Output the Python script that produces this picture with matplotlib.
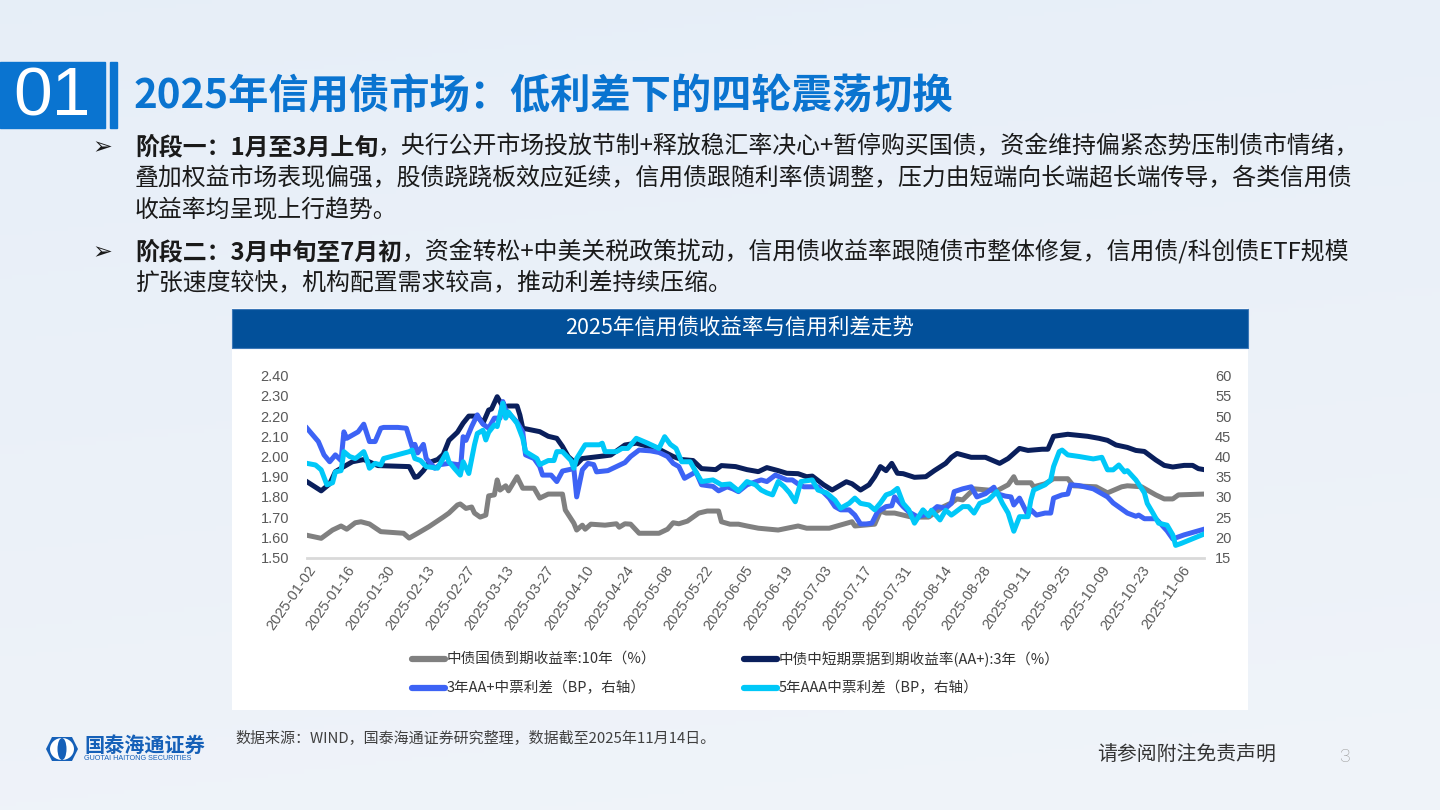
import matplotlib
matplotlib.use('Agg')
import matplotlib.pyplot as plt
import matplotlib.dates as mdates
from matplotlib.patches import Rectangle, Ellipse, Polygon
from matplotlib.lines import Line2D
import numpy as np
import pandas as pd

# ---------------- data ----------------
gov10_dates = ['01-02','01-07','01-11','01-14','01-16','01-19','01-21','01-24','01-28','02-05','02-07','02-10',
               '02-14','02-19','02-21','02-24','02-25','02-27','03-01','03-02','03-04','03-06','03-07','03-09',
               '03-10','03-11','03-13','03-14','03-17','03-19','03-23','03-25','03-28','04-02','04-03','04-06',
               '04-07','04-09','04-10','04-12','04-17','04-21','04-22','04-24','04-26','04-29','05-06','05-09',
               '05-11','05-13','05-16','05-20','05-23','05-27','05-28','05-31','06-03','06-06','06-10','06-17',
               '06-24','06-27','07-05','07-10','07-13','07-14','07-21','07-23','07-25','07-28','08-03','08-09',
               '08-14','08-17','08-19','08-21','08-25','08-29','09-02','09-06','09-08','09-09','09-14','09-15',
               '09-19','09-22','09-27','09-29','10-07','10-11','10-16','10-18','10-23','10-28','10-31','11-03',
               '11-05','11-14']
gov10 = [1.61,1.595,1.636,1.656,1.64,1.672,1.677,1.666,1.628,1.62,1.596,1.62,
         1.653,1.70,1.72,1.76,1.765,1.743,1.75,1.72,1.70,1.71,1.805,1.81,
         1.884,1.834,1.855,1.83,1.90,1.843,1.843,1.794,1.814,1.814,1.735,1.67,
         1.636,1.66,1.64,1.665,1.66,1.667,1.65,1.667,1.665,1.62,1.62,1.64,
         1.672,1.667,1.68,1.72,1.73,1.73,1.677,1.665,1.665,1.656,1.645,1.636,
         1.656,1.645,1.645,1.665,1.677,1.656,1.665,1.73,1.72,1.72,1.70,1.70,
         1.75,1.77,1.79,1.785,1.84,1.835,1.83,1.86,1.90,1.87,1.87,1.85,
         1.865,1.89,1.89,1.855,1.85,1.82,1.85,1.855,1.85,1.81,1.79,1.79,
         1.81,1.814]

mtn3_dates = ['01-02','01-07','01-10','01-12','01-15','01-18','01-22','01-27','02-07','02-09','02-10','02-12',
              '02-14','02-17','02-19','02-21','02-24','02-26','02-28','03-03','03-05','03-07','03-08','03-10',
              '03-12','03-14','03-17','03-18','03-19','03-25','03-28','03-31','04-02','04-04','04-07','04-09',
              '04-15','04-19','04-24','04-28','05-06','05-11','05-14','05-18','05-21','05-26','05-28','06-02',
              '06-06','06-10','06-13','06-17','06-20','06-24','06-27','06-29','07-03','07-06','07-11','07-13',
              '07-16','07-19','07-21','07-23','07-25','07-27','07-29','07-31','08-04','08-08','08-11','08-15',
              '08-17','08-19','08-24','08-29','09-03','09-06','09-10','09-13','09-18','09-20','09-22','09-27',
              '10-04','10-08','10-11','10-14','10-18','10-21','10-24','10-28','10-31','11-03','11-07','11-10',
              '11-12','11-14']
mtn3 = [1.875,1.83,1.865,1.925,1.95,1.974,1.985,1.955,1.95,1.897,1.90,1.93,
        1.97,1.985,2.01,2.08,2.12,2.165,2.20,2.20,2.165,2.23,2.235,2.296,
        2.247,2.25,2.25,2.205,2.14,2.123,2.10,2.09,2.05,2.00,1.962,1.99,
        2.00,2.007,2.057,2.066,2.036,2.00,1.985,1.98,1.94,1.935,1.955,1.95,
        1.935,1.925,1.945,1.93,1.917,1.915,1.90,1.903,1.86,1.834,1.875,1.865,
        1.834,1.86,1.90,1.95,1.93,1.966,1.917,1.915,1.897,1.90,1.93,1.966,
        1.996,2.015,1.996,1.996,1.966,1.99,2.04,2.03,2.036,2.036,2.10,2.11,
        2.10,2.09,2.08,2.057,2.045,2.03,2.025,1.983,1.956,1.948,1.956,1.956,
        1.94,1.935]

sp_aa3_dates = ['01-02','01-06','01-08','01-10','01-12','01-14','01-15','01-16','01-18','01-20','01-22','01-24',
                '01-26','01-28','01-29','02-03','02-06','02-08','02-09','02-10','02-12','02-13','02-16','02-18',
                '02-21','02-24','02-25','02-26','02-27','03-01','03-03','03-04','03-05','03-07','03-09','03-11',
                '03-12','03-13','03-17','03-19','03-20','03-23','03-25','03-26','03-29','03-31','04-02','04-06',
                '04-07','04-09','04-11','04-13','04-14','04-18','04-21','04-24','04-26','04-29','05-03','05-06',
                '05-09','05-11','05-13','05-15','05-17','05-19','05-21','05-25','05-27','05-30','06-01','06-03',
                '06-06','06-11','06-13','06-16','06-20','06-22','06-24','06-26','07-01','07-05','07-07','07-09',
                '07-12','07-14','07-16','07-18','07-20','07-22','07-25','07-27','07-28','07-31','08-02','08-05',
                '08-09','08-12','08-15','08-17','08-18','08-21','08-24','08-26','08-29','09-01','09-02','09-05',
                '09-07','09-08','09-10','09-13','09-14','09-16','09-19','09-21','09-22','09-25','09-27','09-28',
                '10-01','10-06','10-09','10-11','10-13','10-16','10-18','10-21','10-22','10-24','10-28','10-29',
                '11-01','11-03','11-07','11-10','11-14']
sp_aa3 = [47.0,43.7,40.4,38.7,40.4,39.0,46.1,44.5,45.3,46.1,48.0,43.7,
          43.7,47.0,47.2,47.2,47.0,42.5,43.0,40.9,43.0,39.5,37.1,38.0,
          38.3,38.0,36.2,44.9,44.0,47.4,50.3,49.0,48.0,47.0,49.5,49.5,
          53.6,51.5,48.5,46.1,40.4,39.5,37.5,35.4,35.4,33.8,36.4,37.0,
          30.0,36.7,38.3,38.0,36.2,36.5,37.5,38.5,40.0,41.6,41.4,41.0,
          40.0,38.3,37.5,34.6,35.4,36.2,33.0,32.6,31.5,32.5,32.0,31.3,
          33.0,34.2,33.8,35.4,34.2,34.2,33.2,32.5,32.5,29.7,27.6,26.8,
          26.8,25.5,23.3,23.3,23.5,26.3,27.6,27.8,30.0,27.6,26.3,25.1,
          25.8,27.6,27.2,28.4,31.3,32.0,32.5,30.0,30.8,32.4,30.8,30.2,
          30.0,28.0,29.7,25.5,26.8,25.5,26.0,26.0,29.7,30.5,30.7,33.0,
          32.8,32.0,30.8,30.0,28.5,27.0,26.0,25.2,25.5,24.6,24.6,23.9,
          21.6,19.6,20.6,21.2,22.0]

sp_aaa5_dates = ['01-02','01-05','01-07','01-09','01-11','01-12','01-14','01-15','01-17','01-19','01-20','01-22',
                 '01-23','01-24','01-26','01-28','01-29','02-07','02-08','02-09','02-11','02-13','02-17','02-20',
                 '02-21','02-23','02-25','02-26','02-28','03-02','03-03','03-05','03-06','03-07','03-09','03-10',
                 '03-12','03-13','03-14','03-17','03-19','03-20','03-24','03-25','03-28','03-30','03-31','04-02',
                 '04-05','04-06','04-07','04-10','04-15','04-16','04-17','04-21','04-23','04-25','04-28','05-02',
                 '05-06','05-08','05-10','05-12','05-14','05-17','05-19','05-21','05-25','05-28','05-31','06-03',
                 '06-06','06-09','06-11','06-13','06-15','06-17','06-19','06-21','06-23','06-25','06-29','07-01',
                 '07-04','07-07','07-09','07-12','07-14','07-16','07-19','07-21','07-23','07-25','07-27','07-29',
                 '07-31','08-02','08-04','08-07','08-09','08-10','08-13','08-15','08-17','08-18','08-21','08-23',
                 '08-25','08-27','08-30','09-02','09-04','09-06','09-08','09-10','09-13','09-14','09-15','09-19',
                 '09-21','09-22','09-24','09-25','09-27','10-01','10-06','10-09','10-11','10-13','10-15','10-17',
                 '10-18','10-21','10-23','10-24','10-25','10-27','10-29','11-01','11-03','11-04','11-06','11-14']
sp_aaa5 = [38.3,37.9,36.7,33.0,33.5,36.2,36.5,41.2,40.0,39.5,40.0,41.2,
           39.4,37.1,38.3,37.9,39.5,41.2,41.6,39.5,39.0,37.5,37.1,40.8,
           38.7,37.0,35.4,38.7,35.8,42.9,45.7,46.5,44.1,46.0,47.8,47.4,
           53.2,49.5,51.0,48.2,44.5,41.2,39.5,38.0,39.0,39.0,41.2,41.2,
           39.0,37.1,39.5,42.9,42.9,43.3,41.2,41.2,42.0,42.0,44.5,43.3,
           42.0,44.9,43.0,42.0,38.7,38.7,36.2,33.8,34.2,33.0,33.2,31.5,
           33.8,33.0,31.7,31.0,30.5,33.8,32.6,31.0,28.8,33.8,34.2,31.7,
           31.0,29.2,27.2,28.4,29.7,28.4,28.0,26.8,28.5,30.5,31.0,32.1,
           28.4,26.8,23.5,26.8,25.3,26.7,24.3,26.7,25.5,26.0,27.6,27.6,
           26.0,28.4,29.2,31.3,28.4,26.0,21.5,25.1,25.1,29.2,31.7,33.0,
           34.2,37.5,41.2,41.6,40.4,40.0,39.4,39.8,36.7,36.7,37.9,36.2,
           36.5,34.2,32.1,31.0,28.4,26.0,23.5,23.0,20.6,18.0,18.5,20.8]

x_tick_labels = ['2025-01-02','2025-01-16','2025-01-30','2025-02-13','2025-02-27','2025-03-13','2025-03-27',
                 '2025-04-10','2025-04-24','2025-05-08','2025-05-22','2025-06-05','2025-06-19','2025-07-03',
                 '2025-07-17','2025-07-31','2025-08-14','2025-08-28','2025-09-11','2025-09-25','2025-10-09',
                 '2025-10-23','2025-11-06']
left_ticks = [1.50,1.60,1.70,1.80,1.90,2.00,2.10,2.20,2.30,2.40]
right_ticks = [15,20,25,30,35,40,45,50,55,60]

series_names = ['中债国债到期收益率:10年（%）', '中债中短期票据到期收益率(AA+):3年（%）',
                '3年AA+中票利差（BP，右轴）', '5年AAA中票利差（BP，右轴）']
series_colors = ['#808080', '#0a1f5c', '#3d63f5', '#00c8f8']

page_title = '2025年信用债市场：低利差下的四轮震荡切换'
chart_title = '2025年信用债收益率与信用利差走势'
source_text = '数据来源：WIND，国泰海通证券研究整理，数据截至2025年11月14日。'

# ---------------- figure ----------------
W, H = 1440, 810
CJK = ['Noto Sans CJK SC', 'DejaVu Sans']
plt.rcParams['font.family'] = CJK
fig = plt.figure(figsize=(14.4, 8.1), dpi=100)

def fx(x): return x / W
def fy(y): return 1 - y / H

# background gradient
bg = fig.add_axes([0, 0, 1, 1], zorder=-10)
bg.axis('off')
yy = np.linspace(0, 1, 200)[:, None]
xx = np.linspace(0, 1, 360)[None, :]
top = np.array([0.905, 0.935, 0.972])
bot = np.array([0.955, 0.965, 0.980])
t = (0.6 * yy + 0.4 * xx * 0.3)
img = top[None, None, :] * (1 - t[..., None]) + bot[None, None, :] * t[..., None]
bg.imshow(img, aspect='auto', extent=[0, 1, 0, 1], origin='upper')
bg.set_xlim(0, 1); bg.set_ylim(0, 1)

# title block
fig.patches.append(Rectangle((fx(0), fy(128)), fx(105), 66 / H, transform=fig.transFigure,
                             color='#0a74d0', zorder=1))
fig.patches.append(Rectangle((fx(110), fy(128)), fx(7), 66 / H, transform=fig.transFigure,
                             color='#0a74d0', zorder=1))
fig.text(fx(52), fy(97), '01', color='white', fontsize=50, family=['Liberation Sans', 'DejaVu Sans'],
         ha='center', va='center')
fig.text(fx(134), fy(97), page_title, color='#0a74d0', fontsize=29, fontweight='bold',
         ha='left', va='center', family=CJK)

# bullet paragraphs
renderer = fig.canvas.get_renderer()
BODY = 17.2
def rich_line(x, y, parts):
    cur = x
    for txt, bold in parts:
        tt = fig.text(fx(cur), fy(y), txt, fontsize=BODY, fontweight='bold' if bold else 'normal',
                      color='#1a1a1a', ha='left', va='center', family=CJK)
        cur += tt.get_window_extent(renderer).width

for yb in (147, 252):
    fig.text(fx(92), fy(yb), '➢', fontsize=17, color='#1a1a1a', ha='left', va='center',
             family=['DejaVu Sans'])
rich_line(135, 147, [('阶段一：1月至3月上旬', True),
                     ('，央行公开市场投放节制+释放稳汇率决心+暂停购买国债，资金维持偏紧态势压制债市情绪，', False)])
rich_line(135, 179, [('叠加权益市场表现偏强，股债跷跷板效应延续，信用债跟随利率债调整，压力由短端向长端超长端传导，各类信用债', False)])
rich_line(135, 211, [('收益率均呈现上行趋势。', False)])
rich_line(135, 252, [('阶段二：3月中旬至7月初', True),
                     ('，资金转松+中美关税政策扰动，信用债收益率跟随债市整体修复，信用债/科创债ETF规模', False)])
rich_line(135, 284, [('扩张速度较快，机构配置需求较高，推动利差持续压缩。', False)])

# chart panel
fig.patches.append(Rectangle((fx(232), fy(710)), 1016 / W, 402 / H, transform=fig.transFigure,
                             facecolor='white', edgecolor='none', zorder=1))
fig.patches.append(Rectangle((fx(232), fy(348)), 1016 / W, 39 / H, transform=fig.transFigure,
                             facecolor='#02509a', edgecolor='#3c78b8', linewidth=0.8, zorder=2))
fig.text(fx(740), fy(328), chart_title, color='white', fontsize=15.5, ha='center', va='center', family=CJK)

# axes
ax = fig.add_axes([fx(307), fy(557.5), (1204 - 307) / W, (557.5 - 375.7) / H], zorder=5)
ax.patch.set_alpha(0)
ax2 = ax.twinx()
ax2.patch.set_alpha(0)

def to_dates(lst):
    return pd.to_datetime(['2025-' + d for d in lst])

LW = 3.6
ax.plot(to_dates(gov10_dates), gov10, color=series_colors[0], lw=LW, solid_joinstyle='round', zorder=2)
ax.plot(to_dates(mtn3_dates), mtn3, color=series_colors[1], lw=LW, solid_joinstyle='round', zorder=3)
ax2.plot(to_dates(sp_aa3_dates), sp_aa3, color=series_colors[2], lw=LW, solid_joinstyle='round', zorder=2)
ax2.plot(to_dates(sp_aaa5_dates), sp_aaa5, color=series_colors[3], lw=LW, solid_joinstyle='round', zorder=3)

ax.set_xlim(pd.Timestamp('2025-01-02'), pd.Timestamp('2025-11-14'))
ax.set_ylim(1.5, 2.4)
ax2.set_ylim(15, 60)
ax.set_yticks(left_ticks)
ax.set_yticklabels([f'{v:.2f}' for v in left_ticks])
ax2.set_yticks(right_ticks)
ax2.set_yticklabels([str(v) for v in right_ticks])
ax.set_xticks(pd.to_datetime(x_tick_labels))
ax.set_xticklabels(x_tick_labels, rotation=55, ha='right', va='top', rotation_mode='anchor')

TICKFONT = ['Liberation Sans', 'DejaVu Sans']
for a in (ax, ax2):
    for s in a.spines.values():
        s.set_visible(False)
    a.tick_params(length=0, labelsize=10.5, labelcolor='#595959')
    for lab in a.get_yticklabels() + a.get_xticklabels():
        lab.set_family(TICKFONT)
ax.tick_params(axis='y', pad=13)
ax2.tick_params(axis='y', pad=8)
ax.tick_params(axis='x', pad=4)
ax.spines['bottom'].set_visible(True)
ax.spines['bottom'].set_color('#d9d9d9')
ax.spines['bottom'].set_linewidth(2)

# legend (manual)
leg_pos = [(412, 659), (744, 659), (412, 688), (744, 688)]
for (lx, ly), name, col in zip(leg_pos, series_names, series_colors):
    fig.lines.append(Line2D([fx(lx), fx(lx + 33)], [fy(ly), fy(ly)], transform=fig.transFigure,
                            color=col, lw=4.5, solid_capstyle='round', zorder=6))
    fig.text(fx(lx + 35), fy(ly), name, fontsize=10.5, color='#333333', ha='left', va='center', family=CJK,
             zorder=6)

# footer
fig.text(fx(235), fy(738), source_text, fontsize=10.8, color='#404040', ha='left', va='center', family=CJK)
fig.text(fx(1097), fy(755), '请参阅附注免责声明', fontsize=14.3, color='#333333', ha='left', va='center',
         family=CJK)
fig.text(fx(1345), fy(757), '3', fontsize=14, color='#9a9a9a', ha='center', va='center',
         family=['Roboto', 'DejaVu Sans'], fontweight='light')

# logo
logo_blue = '#1560b8'
hexpts = [(46, 749), (52, 737), (72, 737), (78, 749), (72, 761), (52, 761)]
fig.patches.append(Polygon([(fx(a), fy(b)) for a, b in hexpts], closed=True, transform=fig.transFigure,
                           facecolor=logo_blue, edgecolor='none', zorder=2))
fig.patches.append(Ellipse((fx(62), fy(749)), 24 / W, 22 / H, transform=fig.transFigure,
                           facecolor='white', edgecolor='none', zorder=3))
fig.patches.append(Ellipse((fx(62), fy(749)), 9 / W, 22 / H, transform=fig.transFigure,
                           facecolor=logo_blue, edgecolor='none', zorder=4))
fig.text(fx(84), fy(745), '国泰海通证券', fontsize=14.5, fontweight='bold', color=logo_blue,
         ha='left', va='center', family=CJK)
fig.text(fx(84), fy(758), 'GUOTAI HAITONG SECURITIES', fontsize=5.2, color=logo_blue,
         ha='left', va='center', family=['Liberation Sans', 'DejaVu Sans'])

fig.savefig('out.png', dpi=100)
